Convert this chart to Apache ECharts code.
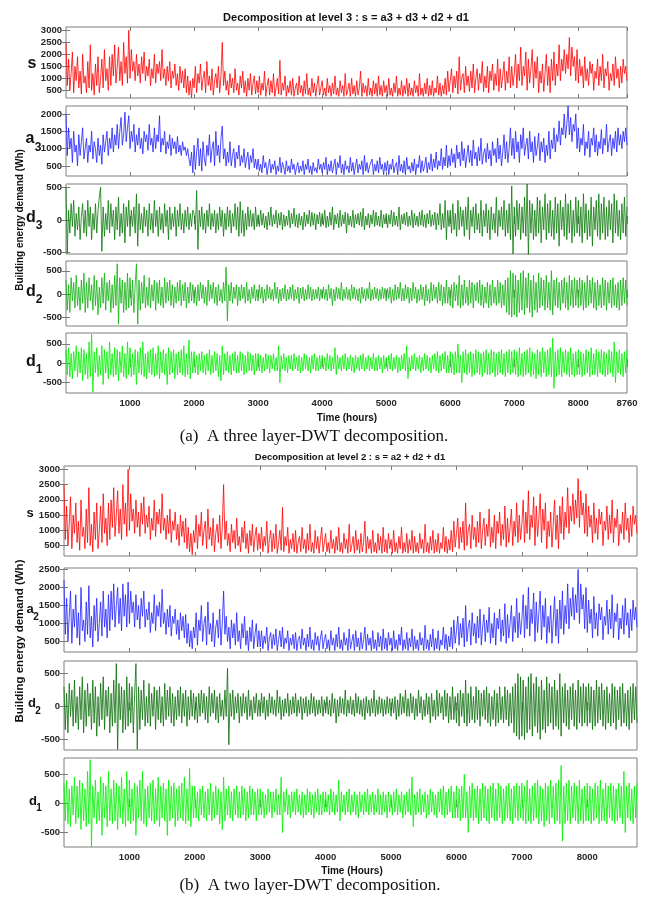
<!DOCTYPE html>
<html>
<head>
<meta charset="utf-8">
<script src="https://cdn.jsdelivr.net/npm/echarts@6.0.0/dist/echarts.min.js"></script>
<style>
html,body{margin:0;padding:0;background:#fff;}
#chart{width:650px;height:897px;}
</style>
</head>
<body>
<div id="chart"></div>
<script>
// ---- Data (samples every ~20 h over 0..8760 h) ----
const HOURS_MAX = 8760;

const sValues = [
2500,700,1800,500,1200,2100,400,1500,900,1900,600,1300,350,2000,800,1100,400,1700,600,2400,
500,1200,300,1600,700,1900,400,1000,1800,600,2200,900,1400,500,1900,700,2000,1100,2400,800,
1500,2300,900,1700,700,2500,1200,1900,800,3000,
1000,2200,1300,1700,900,2000,1100,1600,800,1900,1200,2100,900,1500,1100,1800,700,1400,1000,2000,
800,1600,1200,1700,900,2200,1000,1400,700,1500,900,1700,600,1300,1000,1600,700,1200,500,1500,
800,1300,600,1400,400,1100,300,900,200,1000,
600,1500,400,1200,800,1600,500,1000,1300,400,1700,700,1100,500,1400,300,900,1200,600,1500,
400,1100,2500,700,1300,500,900,300,1200,600,1000,400,1400,500,800,300,1100,600,1300,400,
900,250,1000,500,1200,300,800,1100,350,900,
400,1100,300,800,500,1300,250,700,1000,300,900,400,1200,250,600,1000,350,1750,300,800,
500,1100,250,700,400,900,300,1000,250,600,800,300,1100,400,700,250,900,350,1200,300,
600,250,1000,400,800,250,700,1100,300,600,
900,300,600,250,1000,400,700,250,800,350,1100,300,600,250,900,400,700,250,1200,300,
500,800,250,1000,350,700,250,900,300,600,1300,250,800,400,700,250,1000,300,600,250,
900,350,800,250,1100,300,700,250,900,400,
700,250,1000,300,600,250,800,400,1100,250,600,300,900,250,700,350,1000,250,800,300,
600,250,900,400,700,250,1200,300,600,250,800,350,1000,250,700,300,900,250,600,400,
1100,300,800,250,700,350,1000,300,1300,450,
900,1400,400,1100,600,1300,350,1900,500,1000,1200,400,1500,700,1100,450,1300,600,1600,400,
1000,1400,500,1200,800,1700,450,1100,600,1500,400,1300,900,1600,500,1200,700,1800,450,1400,
600,1100,1700,500,1300,800,1900,600,1500,700,
1200,2000,600,1600,900,2300,700,1500,1100,2100,500,1800,800,1400,2200,600,1700,1000,1900,400,
1300,800,1600,450,1200,2000,700,1500,400,1800,900,2100,700,1600,1100,2400,900,1800,1300,2200,
1200,2000,1400,2700,1100,2300,1500,1900,900,2200,
800,1800,1100,1500,600,1900,900,1400,700,1700,1200,1600,500,1300,1000,1800,700,1500,900,2000,
600,1400,1100,1700,500,1200,900,1600,700,1900,1000,1400,600,1500,800,1800,1200,1500,900
];

const a3Values = [
2000,800,1600,1000,1300,600,1500,900,1100,500,1400,800,1200,1600,700,1000,1300,600,1100,900,
1500,700,1200,1000,600,1300,800,1100,550,1400,900,1200,1500,800,1300,1000,1600,900,1400,1100,
1700,1000,1500,1900,1100,1400,2050,1200,1600,1950,
1000,1500,1200,1700,900,1400,1100,1600,1000,1300,850,1500,1200,1400,950,1700,1100,1300,900,1600,
1000,1400,1200,1950,900,1300,1100,1500,850,1200,1000,1400,800,1300,1000,1200,850,1350,900,1100,
800,1200,950,1050,800,1000,700,500,900,300,
1100,400,900,1300,500,1000,350,1200,700,500,1100,800,1400,600,1000,1200,500,1500,800,1100,
600,1300,1650,700,1000,500,900,600,1200,500,800,1000,450,900,700,1100,500,800,600,1000,
450,700,900,400,800,600,1000,450,700,400,
700,350,550,300,800,450,600,250,500,700,300,550,400,650,250,500,350,750,300,600,
450,250,650,350,500,300,700,400,550,250,450,600,300,500,350,650,250,550,400,700,
300,500,250,600,350,450,300,700,400,550,
300,600,400,750,250,550,350,650,300,500,700,250,600,450,800,300,550,250,650,400,
500,300,750,350,600,250,500,700,300,550,400,650,250,800,350,600,300,500,450,700,
250,550,350,650,300,750,400,550,250,600,
350,650,250,550,400,700,300,500,600,250,800,350,550,300,650,250,750,400,500,300,
600,350,700,250,550,450,800,300,650,350,500,750,300,600,400,850,350,700,450,900,
400,650,500,1000,400,750,500,1100,450,800,
500,1000,600,850,450,1100,700,900,500,1200,650,1000,450,800,1100,600,950,500,1250,700,
900,500,1050,650,1300,550,850,1000,600,1150,700,950,500,1200,800,1000,600,1300,700,1100,
500,900,1400,700,1200,600,1000,1600,800,1300,
700,1500,900,1200,600,1400,1000,1600,800,1100,1300,700,1500,900,1200,600,1350,800,1050,1450,
650,1200,900,1300,600,1100,800,1500,700,1250,1000,1600,900,1400,1200,1800,1100,1600,1400,2000,
1300,1700,2230,1400,1900,1200,1700,1500,2000,1000,
1600,900,1300,1100,1700,800,1200,1000,1500,750,1300,1100,1600,900,1400,800,1200,1000,1550,850,
1300,1100,1700,900,1200,1400,800,1300,1000,1500,900,1600,1100,1400,1000,1500,1200,1600,1100
];

const d3Values = [
500,-500,150,-200,250,-100,300,-250,100,-150,200,-300,50,250,-200,150,-250,300,-100,200,
-300,100,-150,250,-200,150,350,500,-480,200,-250,100,-150,300,-200,250,-100,150,-300,200,
-150,350,-250,100,-200,250,-350,200,-100,300,
-250,150,-100,200,-200,400,-400,250,-150,100,-200,200,-100,150,-250,250,-150,100,-200,300,
-100,150,-250,200,-150,100,-200,250,-100,150,-300,200,-150,100,-100,200,-250,150,-100,250,
-150,100,-200,150,-100,200,-150,100,-100,150,
100,-150,450,-450,150,-100,200,-150,100,-200,150,-100,250,-150,100,-100,150,-200,100,-150,
200,-100,150,-250,100,-150,200,-100,150,-200,100,-100,250,-150,200,-250,280,-200,150,-250,
100,-150,200,-100,150,-100,100,-150,200,-100,
80,-100,150,-80,100,-120,60,-150,120,-80,200,-100,80,-60,150,-120,100,-80,120,-150,
80,-100,60,-80,150,-120,100,-60,180,-100,80,-120,100,-80,60,-150,120,-100,80,-60,
150,-100,120,-80,100,-150,80,-60,120,-100,
100,-80,150,-120,60,-100,120,-80,200,-150,80,-60,100,-120,150,-100,80,-60,120,-200,
100,-80,60,-100,150,-120,80,-60,100,-80,120,-100,180,-150,60,-80,100,-120,80,-60,
150,-100,120,-80,60,-100,150,-120,80,-60,
100,-120,80,-60,150,-100,120,-80,60,-100,200,-150,80,-60,100,-80,120,-100,60,-80,
150,-120,100,-80,60,-100,120,-80,150,-100,80,-120,100,-60,150,-100,80,-80,120,-150,
100,-80,250,-150,100,-120,300,-300,150,-100,
150,-200,250,-150,100,-250,300,-150,200,-100,150,-250,200,-150,350,-300,150,-100,200,-200,
250,-150,100,-200,300,-250,150,-100,250,-200,150,-300,200,-150,100,-200,350,-250,150,-100,
200,-150,300,-250,150,-200,250,-300,520,-520,
200,-250,300,-150,250,-300,200,-200,350,-250,550,-550,300,-200,250,-300,150,-250,350,-200,
300,-350,200,-150,400,-300,250,-200,300,-250,150,-300,350,-200,250,-400,300,-150,200,-250,
400,-300,250,-200,300,-350,150,-250,350,-200,
300,-250,200,-350,400,-200,250,-300,150,-250,350,-400,200,-150,300,-250,400,-300,250,-200,
350,-300,200,-250,300,-150,250,-350,400,-200,300,-250,150,-300,250,-200,350,-250,200
];

const d2Values = [
300,-350,200,-400,350,-150,250,-300,400,-250,150,-350,300,-200,450,-400,250,-300,350,-150,
200,-350,400,-250,300,-450,150,-300,350,-200,450,-350,250,-150,300,-400,200,-300,400,-250,
650,-650,350,-200,300,-400,250,-350,450,-300,
350,-250,300,-400,200,650,-650,300,-350,250,-200,400,-300,150,-250,350,-300,200,-150,300,
-350,250,-200,300,-250,150,-300,350,-200,250,-150,300,-250,200,-300,150,-200,250,-150,300,
-250,200,-150,250,-300,150,-200,250,-150,200,
-200,150,-250,200,-150,250,-100,200,-200,150,-250,300,-150,200,-100,250,-200,150,-250,200,
-150,100,-200,250,-150,580,-580,200,-150,250,-200,150,-100,200,-250,150,-150,200,-100,150,
-200,250,-150,100,-200,150,-100,200,-150,100,
-150,200,-100,150,-200,100,-150,200,-100,150,-120,100,-150,250,-100,150,-200,100,-150,120,
-100,200,-150,100,-120,150,-100,200,-150,100,-100,150,-200,120,-100,150,-150,100,-120,200,
-100,150,-150,100,-120,100,-100,150,-150,100,
-100,150,-120,100,-150,200,-100,120,-250,100,-150,150,-100,120,-120,250,-150,100,-100,150,
-120,100,-150,200,-100,150,-120,100,-150,120,-200,150,-100,100,-150,120,-100,250,-150,100,
-120,150,-100,120,-150,100,-120,150,-100,120,
-150,120,-100,150,-200,100,-150,200,-120,150,-100,250,-150,120,-150,200,-100,150,-200,120,
-150,250,-100,150,-200,100,-150,200,-120,150,-250,200,-150,100,-200,250,-150,200,-100,150,
-200,250,-150,200,-250,150,-200,300,-200,150,
-250,200,-300,250,-150,200,-250,400,-300,200,-250,300,-200,150,-250,300,-200,250,-300,200,
-150,250,-200,300,-250,200,-300,150,-200,250,-300,200,-250,300,-200,150,-250,300,-200,250,
-300,200,-250,300,-400,350,-450,500,-500,450,
-450,400,-500,300,-400,450,-350,500,-450,350,-300,450,-400,300,-500,400,-350,250,-400,450,
-300,350,-250,300,-350,400,-300,250,-350,500,-450,300,-250,350,-300,250,-350,300,-200,350,
-300,250,-350,400,-250,300,-300,350,-250,300,
-300,350,-250,300,-350,250,-300,400,-250,300,-200,350,-300,250,-350,300,-250,200,-300,350,
-250,300,-350,250,-200,300,-300,350,-250,200,-300,250,-350,300,-250,350,-200,300,-250
];

const d1Values = [
350,-300,400,-350,250,-400,300,-200,450,-350,300,-250,400,-450,350,-300,250,-400,550,-350,
750,-750,300,-250,400,-350,200,-300,450,-550,350,-250,300,-400,550,-300,250,-350,400,-300,
350,-450,300,-250,450,-350,250,-400,550,-300,
400,-350,250,-300,350,-550,300,-250,400,-300,550,-350,250,-400,300,-250,350,-300,400,-350,
250,-300,450,-400,300,-250,350,-300,250,-550,400,-300,300,-250,350,-400,250,-300,300,-250,
350,-300,450,-350,250,-300,600,-400,300,-250,
300,-250,200,-300,250,-200,300,-250,200,-300,250,-200,350,-300,200,-250,300,-200,250,-350,
200,-450,450,-300,250,-200,300,-250,200,-300,250,-200,300,-250,200,-250,300,-200,250,-300,
200,-250,300,-200,250,-200,200,-300,250,-200,
250,-200,200,-250,150,-200,250,-150,200,-250,200,-150,250,-200,150,-200,450,-500,200,-150,
250,-200,150,-250,200,-150,200,-200,250,-150,150,-200,200,-250,150,-200,250,-150,200,-200,
150,-250,200,-150,250,-200,150,-200,200,-150,
200,-150,150,-200,250,-150,200,-200,150,-150,400,-300,200,-150,150,-200,200,-150,250,-200,
150,-150,200,-200,150,-250,200,-150,150,-200,200,-150,250,-200,150,-150,200,-200,150,-150,
250,-200,150,-200,200,-150,150,-250,200,-150,
150,-200,200,-150,250,-200,150,-150,200,-250,150,-200,200,-150,250,-200,450,-400,150,-200,
200,-150,250,-200,150,-150,200,-250,150,-200,250,-150,200,-200,150,-250,200,-150,250,-200,
300,-250,200,-200,250,-150,300,-250,200,-250,
300,-250,250,-300,300,-250,500,-250,200,-500,300,-250,350,-300,250,-250,300,-350,250,-300,
350,-250,300,-300,250,-350,300,-250,350,-300,250,-300,350,-250,300,-350,250,-300,300,-250,
350,-300,250,-350,300,-250,350,-300,300,-250,
350,-300,300,-350,400,-300,250,-350,300,-300,350,-250,400,-350,300,-300,250,-400,350,-300,
300,-350,400,-250,300,-350,350,-300,400,-350,650,-650,300,-350,350,-300,400,-350,300,-250,
350,-300,300,-350,400,-300,250,-350,300,-300,
350,-300,300,-350,250,-300,350,-250,300,-350,400,-300,250,-300,350,-350,300,-250,350,-300,
300,-350,250,-300,350,-250,300,-350,550,-500,300,-250,350,-300,250,-350,300,-250,350
];

const a2Values = [
2200,700,1700,500,1200,1900,450,1400,900,1800,600,1300,400,2000,800,1100,500,1600,700,2050,
600,1200,350,1500,800,1700,500,1000,1600,650,1900,900,1400,600,1800,800,1900,1100,2100,900,
1500,2000,1000,1700,800,2100,1200,1800,900,2150,
1000,1900,1300,1600,900,1800,1100,1500,850,1700,1200,1900,900,1400,1100,1600,750,1300,1000,1800,
800,1500,1200,1600,900,1950,1000,1300,700,1400,900,1500,650,1200,1000,1400,700,1100,550,1300,
800,1200,600,1250,450,1000,350,800,300,900,
600,1300,400,1100,800,1500,500,1000,1200,400,1600,700,1000,500,1300,350,900,1100,600,1400,
400,1000,1900,700,1200,500,900,300,1100,600,1000,400,1300,500,800,300,1000,600,1200,400,
800,250,900,500,1100,300,700,1000,350,800,
350,800,300,650,450,900,250,600,750,300,700,400,850,250,550,800,350,900,300,600,
450,800,250,600,400,700,300,750,250,550,650,300,850,400,600,250,700,350,900,300,
550,250,750,400,650,250,600,800,300,550,
700,300,550,250,800,400,600,250,700,350,900,300,550,250,750,400,600,250,850,300,
500,700,250,800,350,600,250,750,300,550,900,250,700,400,600,250,800,300,550,250,
750,350,650,250,850,300,600,250,750,400,
600,250,800,300,550,250,700,400,900,250,550,300,750,250,600,350,850,250,650,300,
550,250,750,400,600,250,950,300,550,250,700,350,850,250,600,300,800,250,550,400,
900,300,700,250,650,350,900,300,1100,450,
800,1200,400,1000,600,1150,350,1500,500,900,1100,400,1300,650,1000,450,1200,600,1400,400,
900,1250,500,1100,750,1450,450,1000,600,1300,400,1150,850,1400,500,1100,650,1550,450,1250,
600,1000,1500,500,1200,750,1700,600,1300,700,
1100,1800,600,1500,850,2000,650,1400,1000,1850,500,1600,750,1300,1900,550,1500,900,1700,450,
1200,750,1500,450,1100,1750,650,1400,450,1650,850,1900,700,1500,1000,2100,850,1700,1200,2000,
1100,1800,1300,2500,1000,2100,1400,1800,850,2000,
750,1650,1000,1400,600,1750,850,1300,650,1550,1100,1450,550,1200,950,1650,700,1400,850,1800,
600,1300,1050,1550,550,1150,850,1500,700,1700,950,1300,600,1400,800,1650,1100,1450,900
];

// tick labels
const xTicksA = [1000,2000,3000,4000,5000,6000,7000,8000,8760];
const xTicksB = [1000,2000,3000,4000,5000,6000,7000,8000];
const yTicksS = [500,1000,1500,2000,2500,3000];
const yTicksA3 = [500,1000,1500,2000];
const yTicksA2 = [500,1000,1500,2000,2500];
const yTicksD = [-500,0,500];

// ---- Layout ----
const FONT = '"Liberation Sans", Arial, sans-serif';
const SERIF = '"Liberation Serif", "Times New Roman", serif';

const panelsA = [
  {values:sValues,  color:'#ff0000', top:27,  h:71, min:180,  max:3140, ticks:yTicksS},
  {values:a3Values, color:'#2020ff', top:106, h:70, min:210,  max:2230, ticks:yTicksA3},
  {values:d3Values, color:'#0a7a0a', top:184, h:70, min:-520, max:550,  ticks:yTicksD},
  {values:d2Values, color:'#10b010', top:261, h:65, min:-690, max:710,  ticks:yTicksD},
  {values:d1Values, color:'#00ee00', top:333, h:60, min:-770, max:780,  ticks:yTicksD}
];
const panelsB = [
  {values:sValues,  color:'#ff0000', top:466, h:90, min:160,  max:3110, ticks:yTicksS},
  {values:a2Values, color:'#2020ff', top:568, h:84, min:210,  max:2540, ticks:yTicksA2},
  {values:d2Values, color:'#0a6e0a', top:661, h:89, min:-660, max:690,  ticks:yTicksD},
  {values:d1Values, color:'#00f000', top:758, h:89, min:-750, max:780,  ticks:yTicksD}
];

const grids=[], xAxes=[], yAxes=[], series=[];
const tickStyle = {color:'#7a7a7a', width:1};
const labStyle = {fontSize:9.5, fontWeight:'bold', color:'#262626', fontFamily:FONT,
  formatter:function(v){ return String(v); }};

function addPanel(p, left, width, showX, xTicks){
  const gi = grids.length;
  grids.push({left:left, top:p.top, width:width, height:p.h, show:true, borderColor:'#7f7f7f', borderWidth:1, backgroundColor:'#ffffff'});
  const common = {gridIndex:gi, type:'value', min:0, max:HOURS_MAX, splitLine:{show:false}, axisLine:{show:false}};
  xAxes.push(Object.assign({}, common, {position:'bottom',
    axisTick:{show:true, inside:true, length:4, customValues:xTicks, lineStyle:tickStyle},
    axisLabel:Object.assign({show:showX, customValues:xTicks, margin:5, hideOverlap:false}, labStyle)}));
  const xb = xAxes.length-1;
  xAxes.push(Object.assign({}, common, {position:'top',
    axisTick:{show:true, inside:true, length:4, customValues:xTicks, lineStyle:tickStyle},
    axisLabel:{show:false}}));
  const yc = {gridIndex:gi, type:'value', min:p.min, max:p.max, splitLine:{show:false}, axisLine:{show:false}};
  yAxes.push(Object.assign({}, yc, {position:'left',
    axisTick:{show:true, inside:true, length:4, customValues:p.ticks, lineStyle:tickStyle},
    axisLabel:Object.assign({show:true, customValues:p.ticks, margin:4}, labStyle)}));
  const yl = yAxes.length-1;
  yAxes.push(Object.assign({}, yc, {position:'right',
    axisTick:{show:true, inside:true, length:4, customValues:p.ticks, lineStyle:tickStyle},
    axisLabel:{show:false}}));
  const n = p.values.length;
  series.push({type:'line', xAxisIndex:xb, yAxisIndex:yl,
    data:p.values.map((v,i)=>[i*HOURS_MAX/(n-1), v]),
    showSymbol:false, symbol:'none', silent:true, animation:false, clip:true, sampling:null,
    lineStyle:{color:p.color, width:1.0, opacity:0.8}});
}

panelsA.forEach((p,i)=>addPanel(p, 66, 561, i===panelsA.length-1, xTicksA));
panelsB.forEach((p,i)=>addPanel(p, 64, 573, i===panelsB.length-1, xTicksB));

function txt(text, x, y, size, opts){
  opts = opts || {};
  return {type:'text', x:x, y:y, rotation:opts.rot||0, silent:true, z:100,
    style:{text:text, font:(opts.weight||'bold')+' '+size+'px '+(opts.family||FONT),
      fill:opts.fill||'#111', textAlign:opts.align||'center', textVerticalAlign:'middle'}};
}

const graphics = [
  txt('Decomposition at level 3 : s = a3 + d3 + d2 + d1', 346, 18, 11),
  txt('s', 32, 64, 16),
  txt('a', 30, 139, 16), txt('3', 38, 148, 12),
  txt('d', 31, 218, 16), txt('3', 39, 226, 12),
  txt('d', 31, 292, 16), txt('2', 39, 300, 12),
  txt('d', 31, 362, 16), txt('1', 39, 370, 12),
  txt('Building energy demand (Wh)', 20, 220, 10, {rot:Math.PI/2}),
  txt('Time (hours)', 347, 418, 10),
  txt('(a)  A three layer-DWT decomposition.', 314, 437, 17, {weight:'normal', family:SERIF}),

  txt('Decomposition at level 2 : s = a2 + d2 + d1', 350, 457, 9.5),
  txt('s', 30, 513, 13),
  txt('a', 30, 609, 13), txt('2', 36, 617, 10),
  txt('d', 32, 703, 13), txt('2', 38, 711, 10),
  txt('d', 33, 801, 13), txt('1', 39, 808, 10),
  txt('Building energy demand (Wh)', 20, 641, 11.5, {rot:Math.PI/2}),
  txt('Time (Hours)', 352, 871, 10),
  txt('(b)  A two layer-DWT decomposition.', 310, 886, 17, {weight:'normal', family:SERIF})
];

const chart = echarts.init(document.getElementById('chart'), null, {renderer:'canvas', width:650, height:897});
chart.setOption({
  animation:false,
  backgroundColor:'#ffffff',
  grid:grids, xAxis:xAxes, yAxis:yAxes, series:series,
  graphic:graphics
});
</script>
</body>
</html>
